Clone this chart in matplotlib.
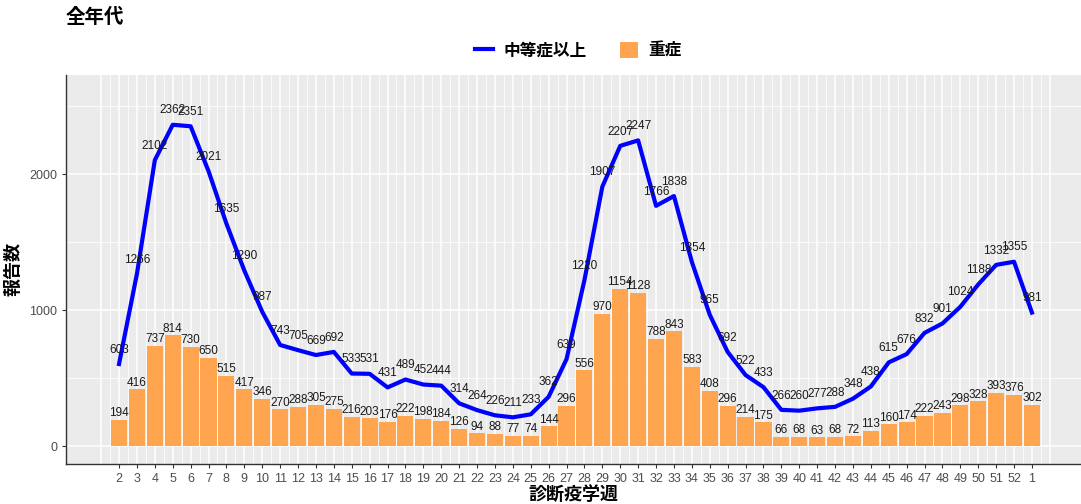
import matplotlib
matplotlib.use("Agg")
import matplotlib.pyplot as plt
from matplotlib.lines import Line2D
from matplotlib.patches import Patch
import numpy as np

plt.rcParams['font.family'] = ['Liberation Sans', 'Noto Sans CJK JP', 'DejaVu Sans']

# diagnosis week labels (year wraps after 52)
weeks = [str(w) for w in range(2, 53)] + ['1']

# 中等症以上 (line)
moderate = [603, 1266, 2102, 2362, 2351, 2021, 1635, 1290, 987, 743,
            705, 669, 692, 533, 531, 431, 489, 452, 444, 314,
            264, 226, 211, 233, 362, 639, 1220, 1907, 2207, 2247,
            1766, 1838, 1354, 965, 692, 522, 433, 266, 260, 277,
            288, 348, 438, 615, 676, 832, 901, 1024, 1188, 1332,
            1355, 981]

# 重症 (bars)
severe = [194, 416, 737, 814, 730, 650, 515, 417, 346, 270,
          288, 305, 275, 216, 203, 176, 222, 198, 184, 126,
          94, 88, 77, 74, 144, 296, 556, 970, 1154, 1128,
          788, 843, 583, 408, 296, 214, 175, 66, 68, 63,
          68, 72, 113, 160, 174, 222, 243, 298, 328, 393,
          376, 302]

LINE_C = '#0000FF'
BAR_C = '#FFA54F'
cjk = ['Noto Sans CJK JP', 'DejaVu Sans']

fig = plt.figure(figsize=(10.81, 5.04), dpi=100)
ax = fig.add_axes([0.0611, 0.0794, 0.9389, 0.7718])
ax.set_facecolor('#EBEBEB')

x = np.arange(len(weeks))

# grid: major at units, minor at halves (only over the data range)
for gx in np.arange(-1, len(weeks) + 1):
    ax.axvline(gx, color='white', lw=1.1, zorder=0)
for gx in np.arange(-0.5, len(weeks), 1.0):
    ax.axvline(gx, color='white', lw=0.55, zorder=0)
for gy in [0, 1000, 2000]:
    ax.axhline(gy, color='white', lw=1.1, zorder=0)
for gy in [500, 1500, 2500]:
    ax.axhline(gy, color='white', lw=0.55, zorder=0)

ax.bar(x, severe, width=0.9, color=BAR_C, zorder=2)
ax.plot(x, moderate, color=LINE_C, lw=3, zorder=3, solid_joinstyle='round')

for xi, v in zip(x, severe):
    ax.annotate(str(v), (xi, v), xytext=(0, 0.5), textcoords='offset points',
                ha='center', va='bottom', fontsize=8.5, color='#1a1a1a', zorder=4)
for xi, v in zip(x, moderate):
    ax.annotate(str(v), (xi, v), xytext=(0, 6), textcoords='offset points',
                ha='center', va='bottom', fontsize=8.5, color='#1a1a1a', zorder=4)

ax.set_xlim(-2.96, 53.74)
ax.set_ylim(-132, 2728)
ax.set_xticks(x)
ax.set_xticklabels(weeks)
ax.set_yticks([0, 1000, 2000])
ax.tick_params(axis='both', colors='#333333', labelcolor='#4D4D4D',
               labelsize=9, length=3, width=0.8)

for s in ['top', 'right']:
    ax.spines[s].set_visible(False)
for s in ['left', 'bottom']:
    ax.spines[s].set_color('#333333')
    ax.spines[s].set_linewidth(1.0)

ax.set_xlabel('診断疫学週', family=cjk, fontsize=13, fontweight='bold', labelpad=0)
ax.set_ylabel('報告数', family=cjk, fontsize=13, fontweight='bold', labelpad=5)

fig.text(0.0611, 0.965, '全年代', family=cjk, fontsize=14, fontweight='bold',
         ha='left', va='center')

handles = [Line2D([0], [0], color=LINE_C, lw=3),
           Patch(facecolor=BAR_C, edgecolor='none')]
fig.legend(handles, ['中等症以上', '重症'], loc='center', bbox_to_anchor=(0.535, 0.90),
           ncol=2, frameon=False, prop={'family': cjk, 'size': 12, 'weight': 'bold'},
           handlelength=1.1, handleheight=1.1, columnspacing=2.0, handletextpad=0.6)

fig.savefig('out.png', dpi=100)
